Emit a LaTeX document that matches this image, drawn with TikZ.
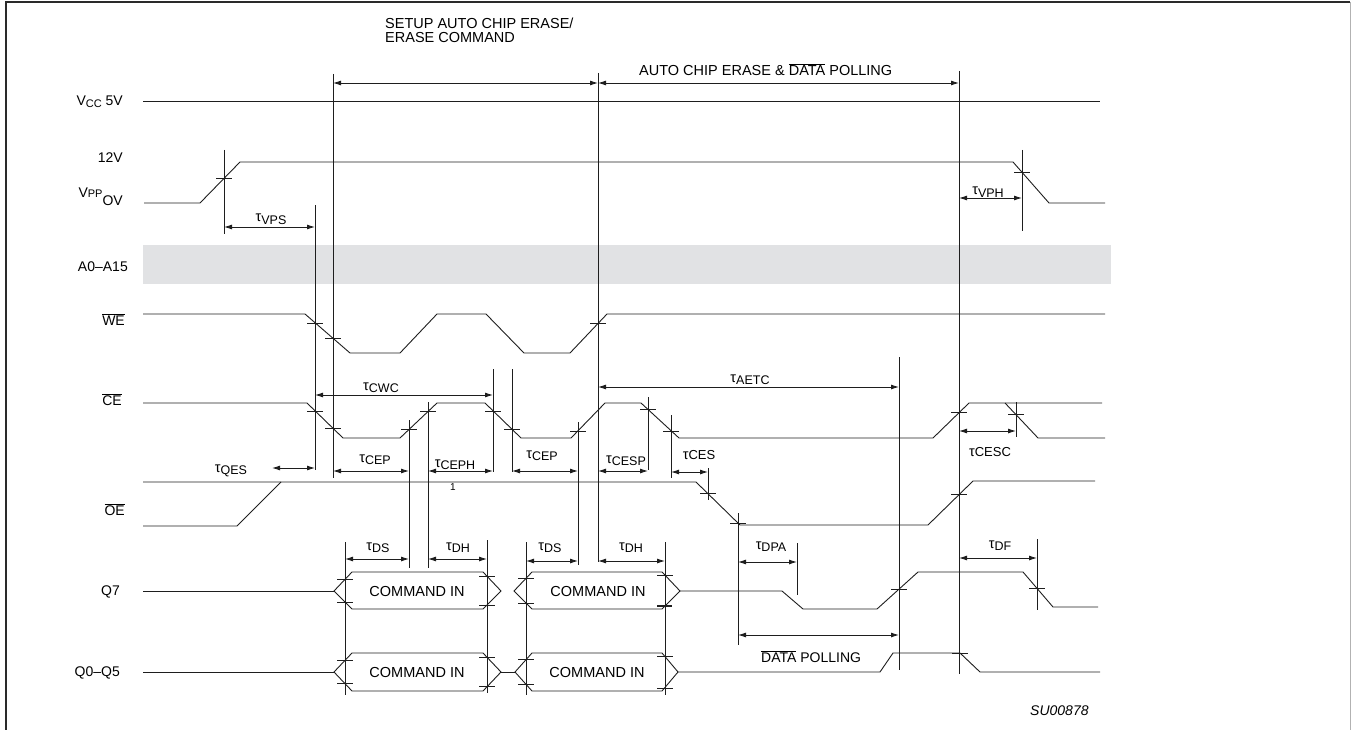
\documentclass[tikz,border=0pt]{standalone}
\usepackage{fontspec}
\setmainfont{Liberation Sans}
\usetikzlibrary{arrows.meta}
\definecolor{ink}{HTML}{1E1E1E}
\definecolor{band}{HTML}{E1E2E4}
\definecolor{framec}{HTML}{2A2A2A}
\newcommand{\ovl}[1]{$\overline{\mbox{#1}}$}
\newcommand{\taus}[1]{τ\raisebox{-2.5pt}{\fontsize{12.5}{12.5}\selectfont #1}}
\newcommand{\taun}[1]{τ{\fontsize{13}{13}\selectfont #1}}
\begin{document}
\begin{tikzpicture}[x=1pt,y=-1pt,
  wave/.style={draw=ink,line width=0.9pt,line join=miter},
  refline/.style={draw=ink,line width=0.8pt},
  tickmark/.style={draw=ink,line width=0.8pt},
  dim/.style={draw=ink,line width=0.9pt,{Latex[length=8pt,width=5pt]}-{Latex[length=8pt,width=5pt]}},
  lab/.style={font=\fontsize{14}{14}\selectfont,inner sep=0pt},
  tlab/.style={font=\fontsize{14.5}{14.5}\selectfont,inner sep=0pt,anchor=base}]
\useasboundingbox (0,0) rectangle (1351,730);
% frame
\draw[framec,line width=2pt] (6,730) -- (6,2) -- (1350,2);
\draw[gray!60,line width=1pt] (1350,2) -- (1350,730);
% address band
\fill[band] (143,245) rectangle (1111,284);
% waveforms
\draw[wave] (143,101) -- (1100,101);
\draw[wave] (144,203) -- (200,203) -- (240,162) -- (1013,162) -- (1049,203) -- (1105,203);
\draw[wave] (143,314) -- (305,314) -- (350,353) -- (400,353) -- (437,314) -- (486,314) -- (524,353) -- (570,353) -- (607,314) -- (1105,314);
\draw[wave] (143,403) -- (307,403) -- (343,438) -- (400,438) -- (437,403) -- (485,403) -- (521,438) -- (571,438) -- (605,403) -- (641,403) -- (679,438) -- (933,438) -- (969,403) -- (1102,403);
\draw[wave] (1005,403) -- (1038,438) -- (1105,438);
\draw[wave] (143,482) -- (696,482) -- (740,525) -- (928,525) -- (973,481) -- (1095,481);
\draw[wave] (143,526) -- (237,526) -- (281,482);
% Q7
\draw[wave] (143,591) -- (334,591);
\draw[wave] (334,591) -- (352,572) -- (483,572) -- (501,591) -- (483,609) -- (352,609) -- cycle;
\draw[wave] (514,591) -- (532,572) -- (662,572) -- (680,591) -- (662,609) -- (532,609) -- cycle;
\draw[wave] (680,591) -- (782,591) -- (803,609) -- (877,609) -- (918,572) -- (1023,572) -- (1053,607) -- (1098,607);
% Q0-Q5
\draw[wave] (143,672) -- (334,672);
\draw[wave] (334,672) -- (352,653) -- (483,653) -- (501,672) -- (483,691) -- (352,691) -- cycle;
\draw[wave] (501,672) -- (515,672);
\draw[wave] (515,672) -- (532,653) -- (662,653) -- (678,672) -- (662,691) -- (532,691) -- cycle;
\draw[wave] (678,672) -- (880,672) -- (893,653) -- (960,653) -- (980,672) -- (1100,672);
% reference verticals
\foreach \x/\a/\b in {224/150/234, 315/205/470, 333/74/478, 409/420/568, 428/402/568,
  493/369/472, 512/369/472, 578/422/565, 598/73/562, 648/397/470, 671/415/478,
  708/468/500, 738/513/645, 797/543/595, 899/357/670, 959/71/674, 1016/402/437,
  1022/150/231, 1037/539/610, 345/542/695, 487/540/693, 526/542/695, 665/542/695}
  \draw[refline] (\x,\a) -- (\x,\b);
% ticks
\foreach \x/\y in {224/178.4, 1022/172, 315/323, 333/338, 598/323.5,
  315/411, 333/428, 409/429.5, 428/411.5, 493/411, 512/429, 578/431, 648/409.5, 671/431, 959/412.7, 1016/414.7,
  708/493.7, 738/523, 959/494.7,
  345/579.4, 345/602.6, 487/576.2, 487/605.8, 526/578.3, 526/603.7, 665/575.2, 899/589, 1037/588,
  345/660.4, 345/683.6, 487/657.2, 487/686.8, 526/659.3, 526/684.7, 665/656, 665/688, 960/653}
  \draw[tickmark] (\x-8,\y) -- (\x+8,\y);
\draw[ink,line width=1.6pt] (657,606) -- (672,606);
% dimension arrows
\foreach \a/\b/\y in {333/598/83, 598/959/83, 224/315/227, 959/1022/198, 315/493/395,
  333/409/471, 428/493/471, 512/578/471, 598/648/471, 671/708/472, 598/899/387,
  272/315/468, 959/1016/431, 345/409/559, 428/487/559, 526/578/561, 598/665/561,
  738/797/562, 738/899/635, 959/1037/558}
  \draw[dim] (\a,\y) -- (\b,\y);
% signal labels
\node[lab,anchor=base east] (lvcc) at (123,106) {V\raisebox{-1.5pt}{\fontsize{11}{11}\selectfont CC} 5V};
\node[lab,anchor=base east] (l12) at (123,163) {12V};
\node[lab,anchor=base east] (lvpp) at (123,205) {\raisebox{8pt}{V\raisebox{-0.5pt}{\fontsize{11}{11}\selectfont PP}}OV};
\node[lab,anchor=base east] (la) at (128,271) {A0–A15};
\node[lab,anchor=base east] (lwe) at (125,325) {\ovl{WE}};
\node[lab,anchor=base east] (lce) at (122,405) {\ovl{CE}};
\node[lab,anchor=base east] (loe) at (125,515) {\ovl{OE}};
\node[lab,anchor=base east] (lq7) at (120,595) {Q7};
\node[lab,anchor=base east] (lq05) at (120,676) {Q0–Q5};
% phase labels
\node[lab,anchor=base west,font=\fontsize{14.5}{14.5}\selectfont] (setup1) at (385,29) {SETUP AUTO CHIP ERASE/};
\node[lab,anchor=base west,font=\fontsize{14.5}{14.5}\selectfont] (setup2) at (385,43) {ERASE COMMAND};
\node[lab,anchor=base west,font=\fontsize{14.5}{14.5}\selectfont] (autoce) at (639,76) {AUTO CHIP ERASE \& \ovl{DATA} POLLING};
% box texts
\node[lab,anchor=base,font=\fontsize{14.5}{14.5}\selectfont] (c1) at (417,596) {COMMAND IN};
\node[lab,anchor=base,font=\fontsize{14.5}{14.5}\selectfont] (c2) at (598,596) {COMMAND IN};
\node[lab,anchor=base,font=\fontsize{14.5}{14.5}\selectfont] (c3) at (417,677) {COMMAND IN};
\node[lab,anchor=base,font=\fontsize{14.5}{14.5}\selectfont] (c4) at (597,677) {COMMAND IN};
\node[lab,anchor=base west] (dp) at (761,662) {\ovl{DATA} POLLING};
\node[lab,anchor=base west,font=\fontsize{14}{14}\selectfont\itshape] (su) at (1030,715) {SU00878};
\node[lab,anchor=base,font=\fontsize{10}{10}\selectfont] (one) at (453,490) {1};
% timing labels
\node[tlab] (tvps) at (271,222) {\taus{VPS}};
\node[tlab] (tvph) at (988,195) {\taus{VPH}};
\node[tlab] (tcwc) at (381,390) {\taus{CWC}};
\node[tlab] (tcep1) at (375,462) {\taus{CEP}};
\node[tlab] (tceph) at (455,467) {\taus{CEPH}};
\node[tlab] (tcep2) at (542,458) {\taus{CEP}};
\node[tlab] (tcesp) at (626,463) {\taus{CESP}};
\node[tlab] (tces) at (699,459) {\taun{CES}};
\node[tlab] (taetc) at (750,382) {\taus{AETC}};
\node[tlab] (tqes) at (231,472) {\taus{QES}};
\node[tlab] (tcesc) at (990,456) {\taun{CESC}};
\node[tlab] (tds1) at (378,550) {\taus{DS}};
\node[tlab] (tdh1) at (458,550) {\taus{DH}};
\node[tlab] (tds2) at (550,550) {\taus{DS}};
\node[tlab] (tdh2) at (631,550) {\taus{DH}};
\node[tlab] (tdpa) at (771,549) {\taus{DPA}};
\node[tlab] (tdf) at (1000,548) {\taus{DF}};
\end{tikzpicture}
\end{document}
